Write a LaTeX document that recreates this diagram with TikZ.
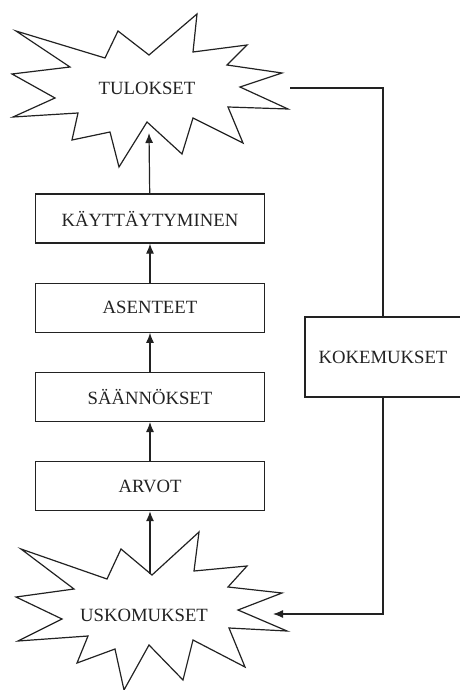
\documentclass[tikz,border=0pt]{standalone}
\usepackage{fontspec}
\setmainfont{Liberation Serif}
\usetikzlibrary{arrows.meta, positioning}
\definecolor{ink}{HTML}{222222}
\tikzstyle{stage} = [rectangle, draw=ink, line width=1.2pt, minimum width=229pt, minimum height=49pt, text centered, text=ink, font=\fontsize{18.7}{22}\selectfont]
\tikzstyle{burst} = [draw=ink, line width=1.2pt, line join=miter, fill=white]
\tikzstyle{label} = [text=ink, font=\fontsize{18.7}{22}\selectfont]
\tikzstyle{cable} = [draw=ink, line width=1.2pt, -{Latex[length=10pt,width=8pt]}]
\tikzstyle{wire} = [draw=ink, line width=1.2pt]

\begin{document}
\begin{tikzpicture}[x=1pt, y=-1pt, node distance=39pt]
  \useasboundingbox (0,0) rectangle (459,690);
  % outcome burst
  \draw [burst] (16,31) -- (105,58) -- (118,31) -- (149,55) -- (197,14) -- (193,52) -- (247,45) -- (227,65)
    -- (282,73) -- (240,87) -- (288,109) -- (228,107) -- (243,143) -- (193,118) -- (182,154) -- (147,122)
    -- (119,167) -- (110,132) -- (72,140) -- (78,113) -- (13,117) -- (55,98) -- (12,74) -- (70,67) -- cycle;
  \node (tulokset) [label] at (147,88) {TULOKSET};
  \coordinate (tulBase) at (149,133);
  \coordinate (tulSide) at (290,88);
  % belief burst
  \draw [burst] (21,549) -- (107,579) -- (121,549) -- (152,575) -- (199,532) -- (194,571) -- (247,566) -- (228,587)
    -- (282,593) -- (238,610) -- (287,631) -- (229,628) -- (245,667) -- (193,640) -- (183,680) -- (149,645)
    -- (124,690) -- (115,649) -- (77,663) -- (88,636) -- (18,641) -- (62,619) -- (16,597) -- (74,589) -- cycle;
  \node (uskomukset) [label] at (144,615) {USKOMUKSET};
  \coordinate (uskTop) at (150,574);
  \coordinate (uskSide) at (273,614);
  % chain
  \node (kayt) [stage] at (150,218.5) {KÄYTTÄYTYMINEN};
  \node (asenteet) [stage, below = of kayt] {ASENTEET};
  \node (saannokset) [stage, below = of asenteet] {SÄÄNNÖKSET};
  \node (arvot) [stage, below = of saannokset] {ARVOT};
  \node (kokemukset) [stage, minimum width=156pt, minimum height=80pt] at (383,357) {KOKEMUKSET};
  \draw [cable] (uskTop) -- (uskTop |- arvot.south);
  \draw [cable] (arvot) -- (saannokset);
  \draw [cable] (saannokset) -- (asenteet);
  \draw [cable] (asenteet) -- (kayt);
  \draw [cable] (kayt) -- (tulBase);
  \draw [wire] (kokemukset) |- (tulSide);
  \draw [cable] (kokemukset) |- (uskSide);
\end{tikzpicture}
\end{document}
